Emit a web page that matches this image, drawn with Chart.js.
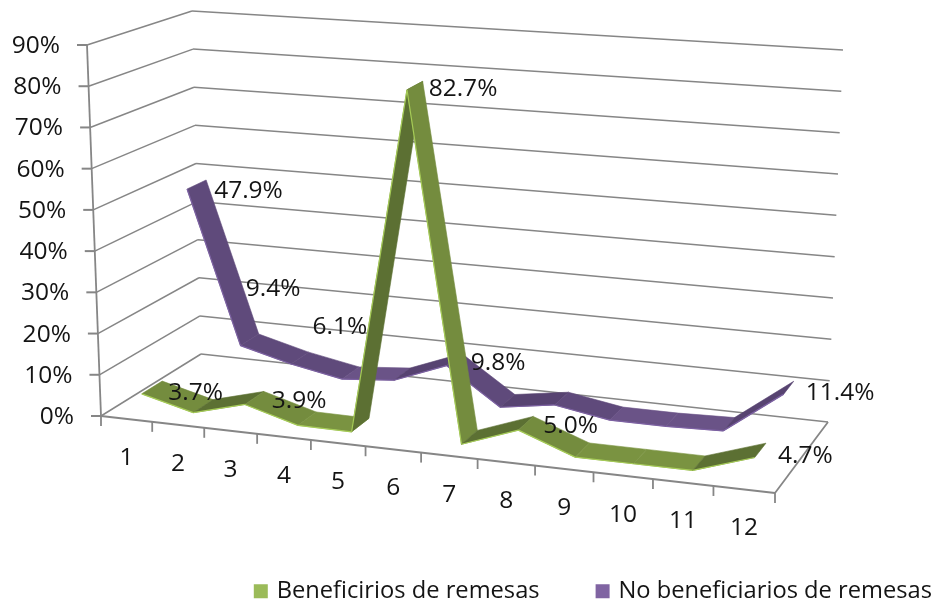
<!DOCTYPE html>
<html><head><meta charset="utf-8">
<style>html,body{margin:0;padding:0;background:#fff}canvas{display:block}</style>
<script src="https://cdn.jsdelivr.net/npm/chart.js@4"></script>
</head><body><canvas id="c" width="935" height="600"></canvas>
<script>
const categories = ['1','2','3','4','5','6','7','8','9','10','11','12'];
const beneficiarios = [3.7,0.5,3.9,0.3,0.2,82.7,0.2,5.0,0.2,0.2,0.2,4.7];
const noBeneficiarios = [47.9,9.4,6.1,3.7,4.8,9.8,1.0,3.0,0.8,0.8,1.2,11.4];
const yTicksMax = 90;
const labelledGreen = [0,2,5,7,11];
const labelledPurple = [0,1,2,5,11];

// Projection of the plot box (walls and floor of the 3D scene)
const floorQuad = [[101,416],[775,493],[828,422],[201,354]];
const topQuad   = [[87,45],[817,93],[843,50],[192,11]];
const foreshorten = 0.953;
function homography(q){
  const [p0,p1,p2,p3]=q;
  const dx1=p1[0]-p2[0],dx2=p3[0]-p2[0],sx=p0[0]-p1[0]+p2[0]-p3[0];
  const dy1=p1[1]-p2[1],dy2=p3[1]-p2[1],sy=p0[1]-p1[1]+p2[1]-p3[1];
  const d=dx1*dy2-dx2*dy1;
  const g=(sx*dy2-dx2*sy)/d,h=(dx1*sy-sx*dy1)/d;
  const a=p1[0]-p0[0]+g*p1[0],b=p3[0]-p0[0]+h*p3[0],c=p0[0];
  const e=p1[1]-p0[1]+g*p1[1],f=p3[1]-p0[1]+h*p3[1],i=p0[1];
  return (u,w)=>{const z=g*u+h*w+1;return [(a*u+b*w+c)/z,(e*u+f*w+i)/z];};
}
const hFloor=homography(floorQuad),hTop=homography(topQuad);
function project(u0,v,w){
  const u=foreshorten*u0/(1+(foreshorten-1)*u0);
  const a=hFloor(u,w),b=hTop(u,w);
  return [a[0]+(b[0]-a[0])*v,a[1]+(b[1]-a[1])*v];
}

const GRID='#868686', TEXT='#141414', FONT='"Open Sans"', SIZE=24.5;
const depthSlots=[[0.15,0.35],[0.65,0.85]];
const faceColours=[
  {down:'#748C3E',flat:'#7A9341',up:'#5C7033',edge:'#A6CC57'},
  {down:'#5F4A7B',flat:'#6A5387',up:'#574371',edge:'#7C61A2'}
];
const labelNudge=[
  {0:[6,12],2:[8,10],5:[6,8],7:[10,10],11:[12,13]},
  {0:[8,11],1:[-13,-45],2:[4,-25],5:[9,9],11:[12,12]}
];
const labelled=[labelledGreen,labelledPurple];

const scene3d={
  id:'scene3d',
  afterLayout(chart){
    const L=chart.legend,dx=991-L.right,dy=15;
    L.left+=dx;L.right+=dx;L.top+=dy;L.bottom+=dy;
  },
  beforeDatasetsDraw(chart){
    const ctx=chart.ctx,X=chart.scales.x,Y=chart.scales.y;
    const U=i=>(X.getPixelForValue(i)-X.left)/X.width;
    const V=val=>(Y.bottom-Y.getPixelForValue(val))/Y.height;
    const line=(a,b,lw)=>{ctx.beginPath();ctx.moveTo(a[0],a[1]);ctx.lineTo(b[0],b[1]);ctx.lineWidth=lw||1.5;ctx.strokeStyle=GRID;ctx.stroke();};
    ctx.save();
    // walls
    Y.ticks.forEach(t=>{
      const v=V(t.value);
      const a=project(0,v,0),b=project(0,v,1),c=project(1,v,1);
      line(a,b);line(b,c);
      line(a,[a[0]-10,a[1]],2);
      ctx.font=SIZE+'px '+FONT;ctx.fillStyle=TEXT;ctx.textAlign='right';ctx.textBaseline='middle';
      ctx.fillText(t.label,a[0]-27,a[1]+1);
    });
    line(project(0,0,0),project(0,1,0),1.8);
    // floor
    line(project(0,0,0),project(1,0,0),1.8);
    line(project(1,0,0),project(1,0,1),1.8);
    for(let i=0;i<=categories.length;i++){
      const p=project(U(i-0.5),0,0);
      line(p,[p[0],p[1]+10],1.8);
    }
    X.ticks.forEach((t,i)=>{
      const p=project(U(i),0,0);
      ctx.font=SIZE+'px '+FONT;ctx.fillStyle=TEXT;ctx.textAlign='center';ctx.textBaseline='middle';
      ctx.fillText(t.label,p[0],p[1]+39);
    });
    // ribbons, back series first
    [1,0].forEach(s=>{
      const ds=chart.data.datasets[s],[w0,w1]=depthSlots[s],col=faceColours[s];
      for(let i=0;i<ds.data.length-1;i++){
        const a=V(ds.data[i]),b=V(ds.data[i+1]),u=U(i),n=U(i+1);
        const p=[project(u,a,w0),project(n,b,w0),project(n,b,w1),project(u,a,w1)];
        const rising=b-a;
        ctx.fillStyle=rising>0.015?col.up:(rising<-0.015?col.down:col.flat);
        ctx.beginPath();p.forEach((q,k)=>k?ctx.lineTo(q[0],q[1]):ctx.moveTo(q[0],q[1]));ctx.closePath();ctx.fill();
        ctx.strokeStyle=ctx.fillStyle;ctx.lineWidth=0.6;ctx.stroke();
        ctx.strokeStyle=col.edge;ctx.lineWidth=1.2;
        ctx.beginPath();ctx.moveTo(p[0][0],p[0][1]);ctx.lineTo(p[1][0],p[1][1]);ctx.stroke();
      }
    });
    // data labels
    ctx.font=SIZE+'px '+FONT;ctx.fillStyle=TEXT;ctx.textAlign='left';ctx.textBaseline='middle';
    [0,1].forEach(s=>{
      const ds=chart.data.datasets[s],w1=depthSlots[s][1];
      labelled[s].forEach(i=>{
        const p=project(U(i),V(ds.data[i]),w1),o=labelNudge[s][i];
        ctx.fillText(ds.data[i].toFixed(1)+'%',p[0]+o[0],p[1]+o[1]);
      });
    });
    ctx.restore();
    return false;
  }
};

new Chart(document.getElementById('c'),{
  type:'line',
  data:{labels:categories,datasets:[
    {label:'Beneficirios de remesas',data:beneficiarios,backgroundColor:'#9BBB59',borderColor:'#9BBB59',pointRadius:0},
    {label:'No beneficiarios de remesas',data:noBeneficiarios,backgroundColor:'#8064A2',borderColor:'#8064A2',pointRadius:0}
  ]},
  plugins:[scene3d],
  options:{
    responsive:false,animation:false,
    layout:{padding:{right:3,bottom:2}},
    scales:{
      x:{type:'category',offset:true,display:false},
      y:{type:'linear',min:0,max:yTicksMax,display:false,ticks:{stepSize:10,callback:v=>v+'%'}}
    },
    plugins:{
      tooltip:{enabled:false},
      legend:{display:true,position:'bottom',align:'end',
        labels:{boxWidth:8,boxHeight:8,padding:59,color:TEXT,font:{family:'"Open Sans"',size:23.7},
          generateLabels(chart){
            return chart.data.datasets.map((d,i)=>({text:d.label,fillStyle:d.backgroundColor,strokeStyle:d.backgroundColor,lineWidth:6,fontColor:TEXT,datasetIndex:i,hidden:false}));
          }}}
    }
  }
});
</script></body></html>
